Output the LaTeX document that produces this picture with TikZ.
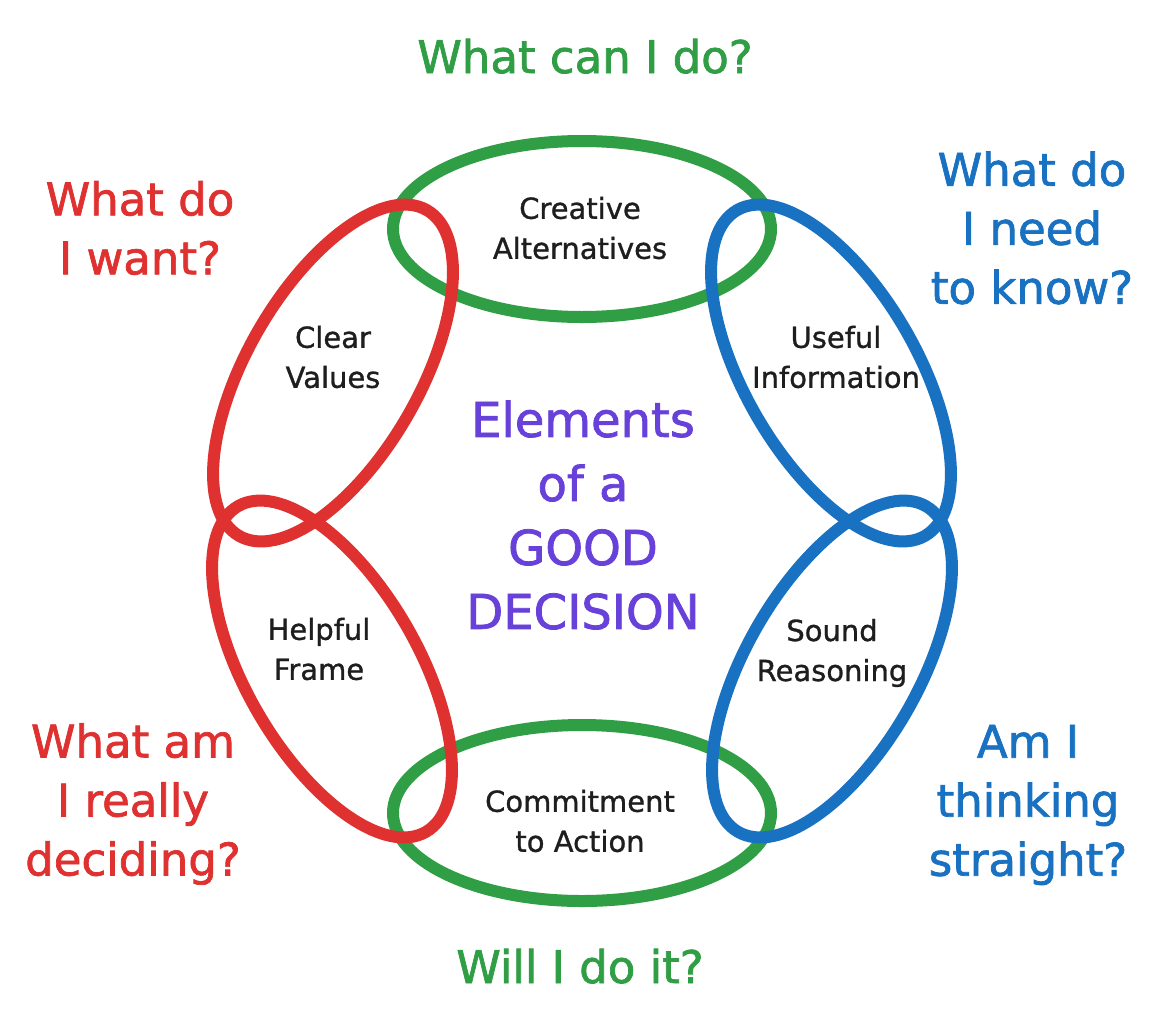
\documentclass[tikz,border=0pt]{standalone}
\usepackage{fontspec}
\setmainfont{DejaVu Sans}
\newfontfamily\handthick[FakeBold=1.6]{DejaVu Sans}
\newfontfamily\handmid[FakeBold=1.0]{DejaVu Sans}
\usetikzlibrary{shapes.geometric}
\definecolor{exgreen}{HTML}{2F9E44}
\definecolor{exred}{HTML}{E03131}
\definecolor{exblue}{HTML}{1971C2}
\definecolor{exviolet}{HTML}{6741D9}
\definecolor{ink}{HTML}{1E1E1E}
\begin{document}
\begin{tikzpicture}[x=1pt,y=-1pt,
  ring/.style={ellipse, draw, line width=12pt, inner sep=0pt, outer sep=0pt,
    minimum width=376pt, minimum height=172pt},
  flatring/.style={ring, minimum width=378pt, minimum height=176pt},
  elabel/.style={align=center, text=ink, inner sep=0pt, font=\handmid\fontsize{29}{40}\selectfont},
  question/.style={align=center, inner sep=0pt, font=\handthick\fontsize{45}{59}\selectfont},
  headline/.style={align=center, inner sep=0pt, text=exviolet, font=\handthick\fontsize{48}{64}\selectfont}]
\fill[white] (0,0) rectangle (1166,1031);
\useasboundingbox (0,0) rectangle (1166,1031);

% rings: green first, red and blue over them
\node[flatring, draw=exgreen] (alt) at (582,229) {};
\node[flatring, draw=exgreen] (act) at (582,813) {};
\node[ring, draw=exred, rotate=60] (val) at (333,373) {};
\node[ring, draw=exred, rotate=-60] (frm) at (332,669) {};
\node[ring, draw=exblue, rotate=-60] (inf) at (831,373) {};
\node[ring, draw=exblue, rotate=60] (rea) at (832,669) {};

% element labels
\node[elabel] (altT) at (580,228) {Creative\\Alternatives};
\node[elabel] (valT) at (333,357) {Clear\\Values};
\node[elabel] (infT) at (836,357) {Useful\\Information};
\node[elabel] (frmT) at (319,649) {Helpful\\Frame};
\node[elabel] (reaT) at (832,653) {Sound\\Reasoning};
\node[elabel] (actT) at (580,821) {Commitment\\to Action};

% centre title
\node[headline] (title) at (583,515) {Elements\\of a\\GOOD\\DECISION};

% questions
\node[question, text=exgreen, anchor=base] (qtop) at (585,73) {What can I do?};
\node[question, text=exgreen, anchor=base] (qbot) at (580,983) {Will I do it?};
\node[question, text=exred] (qval) at (140,228) {What do\\I want?};
\node[question, text=exred] (qfrm) at (133,804) {What am\\I really\\deciding?};
\node[question, text=exblue] (qinf) at (1032,228) {What do\\I need\\to know?};
\node[question, text=exblue] (qrea) at (1028,805) {Am I\\thinking\\straight?};
\end{tikzpicture}
\end{document}
